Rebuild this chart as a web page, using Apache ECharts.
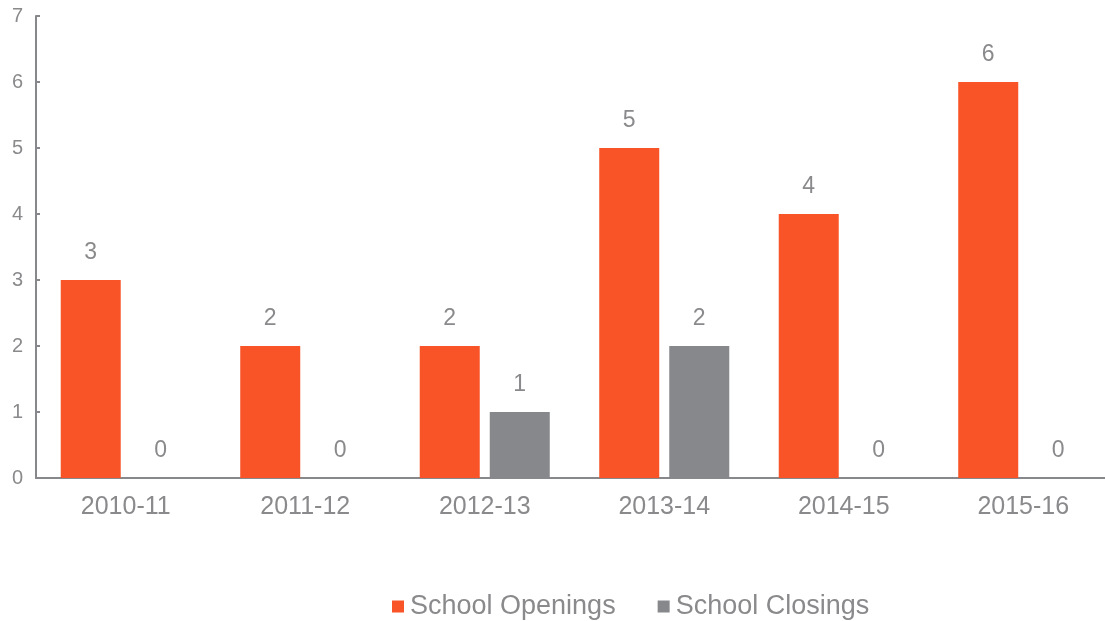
<!DOCTYPE html>
<html><head><meta charset="utf-8">
<script src="https://cdn.jsdelivr.net/npm/echarts@6/dist/echarts.min.js"></script>
<style>html,body{margin:0;padding:0;background:#fff}#c{width:1105px;height:621px}</style>
</head><body><div id="c"></div>
<script>
const categories = ['2010-11','2011-12','2012-13','2013-14','2014-15','2015-16'];
const openings = [3,2,2,5,4,6];
const closings = [0,0,1,2,0,0];
const seriesNames = ['School Openings','School Closings'];
const colors = ['#F85427','#87888C'];
const textColor = '#8A8A8D';
const axisColor = '#87888C';
const font = 'Liberation Sans, Arial, sans-serif';

const chart = echarts.init(document.getElementById('c'));
const labelCfg = {show:true, position:'top', distance:16, color:textColor, fontSize:23, fontFamily:font};
chart.setOption({
  animation:false,
  textStyle:{fontFamily:font},
  grid:{left:36, top:16, width:1077, height:462, outerBoundsMode:'none', containLabel:false},
  legend:{
    data:seriesNames, left:392, top:593, padding:0, itemWidth:12, itemHeight:12, itemGap:42,
    icon:'rect', textStyle:{color:textColor, fontSize:27, fontFamily:font, padding:[0,0,0,1]}
  },
  xAxis:{
    type:'category', data:categories,
    axisLine:{lineStyle:{color:axisColor, width:2}},
    axisTick:{inside:true, length:5, lineStyle:{color:axisColor, width:2}},
    axisLabel:{color:textColor, fontSize:25, margin:17, fontFamily:font}
  },
  yAxis:{
    type:'value', min:0, max:7, interval:1,
    splitLine:{show:false},
    axisLine:{show:true, lineStyle:{color:axisColor, width:2}},
    axisTick:{show:true, inside:true, length:4, lineStyle:{color:axisColor, width:2}},
    axisLabel:{color:textColor, fontSize:20, margin:13, fontFamily:font, align:'right'}
  },
  series:[
    {name:seriesNames[0], type:'bar', data:openings, barWidth:60, barGap:'16.7%', itemStyle:{color:colors[0]}, label:labelCfg},
    {name:seriesNames[1], type:'bar', data:closings, barWidth:60, itemStyle:{color:colors[1]}, label:labelCfg}
  ]
});
</script></body></html>
